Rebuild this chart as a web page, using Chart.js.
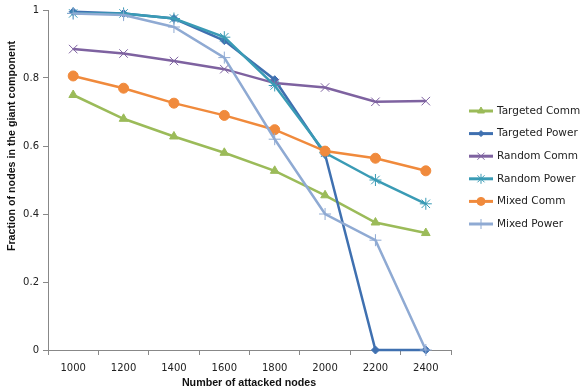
<!DOCTYPE html>
<html><head><meta charset="utf-8">
<script src="https://cdn.jsdelivr.net/npm/chart.js@4.4.1/dist/chart.umd.min.js"></script>
<style>html,body{margin:0;padding:0;background:#fff}#wrap{width:586px;height:392px;position:relative}</style>
</head><body><div id="wrap"><canvas id="c" width="586" height="392"></canvas></div>
<script>
const categories = ['1000','1200','1400','1600','1800','2000','2200','2400'];
const seriesNames = ['Targeted Comm','Targeted Power','Random Comm','Random Power','Mixed Comm','Mixed Power'];
const targetedComm  = [0.750, 0.680, 0.628, 0.580, 0.527, 0.455, 0.375, 0.344];
const targetedPower = [0.995, 0.990, 0.975, 0.910, 0.795, 0.575, 0.000, 0.000];
const randomComm    = [0.885, 0.872, 0.850, 0.826, 0.785, 0.772, 0.730, 0.732];
const randomPower   = [0.990, 0.990, 0.975, 0.920, 0.778, 0.580, 0.500, 0.430];
const mixedComm     = [0.806, 0.770, 0.726, 0.690, 0.648, 0.585, 0.564, 0.527];
const mixedPower    = [0.990, 0.985, 0.950, 0.860, 0.620, 0.400, 0.323, 0.000];
const yTicks = [0, 0.2, 0.4, 0.6, 0.8, 1];

const colors = ['#9BBB59','#3F70B0','#7E62A0','#3A9BB5','#F08A3C','#8FAAD3'];
const styles = [
  {pointStyle:'triangle', radius:5, bw:1},
  {pointStyle:'rectRot', radius:4, bw:1},
  {pointStyle:'crossRot', radius:6, bw:1},
  {pointStyle:'star', radius:6, bw:1},
  {pointStyle:'circle', radius:5, bw:1},
  {pointStyle:'cross', radius:6, bw:1}
];
const values = [targetedComm, targetedPower, randomComm, randomPower, mixedComm, mixedPower];

const datasets = values.map((v,i)=>({
  label: seriesNames[i], data: v,
  borderColor: colors[i], backgroundColor: colors[i],
  borderWidth: 2.5, pointStyle: styles[i].pointStyle, pointRadius: styles[i].radius,
  pointBorderWidth: styles[i].bw, pointBackgroundColor: colors[i], pointBorderColor: colors[i],
  tension: 0, order: 10 - i, clip: false
}));

const legendPlugin = {
  id: 'customLegend',
  afterDraw(chart) {
    const ctx = chart.ctx;
    const x0 = 469, x1 = 493, tx = 497, y0 = 111, dy = 22.6;
    ctx.save();
    chart.data.datasets.forEach((ds, i) => {
      const y = y0 + i*dy;
      ctx.strokeStyle = ds.borderColor; ctx.lineWidth = 3;
      ctx.beginPath(); ctx.moveTo(x0, y); ctx.lineTo(x1, y); ctx.stroke();
      ctx.fillStyle = ds.borderColor; ctx.lineWidth = 1;
      Chart.helpers.drawPoint(ctx, {pointStyle: ds.pointStyle, radius: ds.pointRadius - 1, rotation: 0, borderWidth: 1}, (x0+x1)/2, y);
      ctx.fillStyle = '#222'; ctx.font = '10.5px "DejaVu Sans"'; ctx.textBaseline = 'middle'; ctx.textAlign = 'left';
      ctx.fillText(ds.label, tx, y);
    });
    // axis titles
    ctx.fillStyle = '#111'; ctx.font = 'bold 10.7px "Liberation Sans"'; ctx.textAlign = 'center'; ctx.textBaseline = 'middle';
    ctx.fillText('Number of attacked nodes', 249, 383);
    ctx.translate(12, 146); ctx.rotate(-Math.PI/2);
    ctx.fillText('Fraction of nodes in the giant component', 0, 0);
    ctx.restore();
  }
};

new Chart(document.getElementById('c'), {
  type: 'line',
  data: { labels: categories, datasets },
  options: {
    responsive: false, animation: false, devicePixelRatio: 1,
    layout: { padding: { top: 9.5, right: 135, left: 0, bottom: 0 } },
    plugins: { legend: { display: false }, tooltip: { enabled: false } },
    scales: {
      x: {
        type: 'category', offset: true,
        grid: { display: true, drawOnChartArea: false, offset: true, tickLength: 5, color: '#888' },
        border: { color: '#888', width: 1 },
        ticks: { color: '#222', font: { family: 'DejaVu Sans', size: 10 }, padding: 7, maxRotation: 0 },
        afterFit(s) { s.height = 42; }
      },
      y: {
        min: 0, max: 1,
        afterBuildTicks(s) { s.ticks = yTicks.map(v => ({ value: v })); },
        grid: { display: true, drawOnChartArea: false, tickLength: 5, color: '#888' },
        border: { color: '#888', width: 1 },
        ticks: { color: '#222', font: { family: 'DejaVu Sans', size: 10 }, padding: 4,
          callback: v => (Math.round(v*10)/10).toString() },
        afterFit(s) { s.width = 48; }
      }
    }
  },
  plugins: [legendPlugin]
});
</script></body></html>
